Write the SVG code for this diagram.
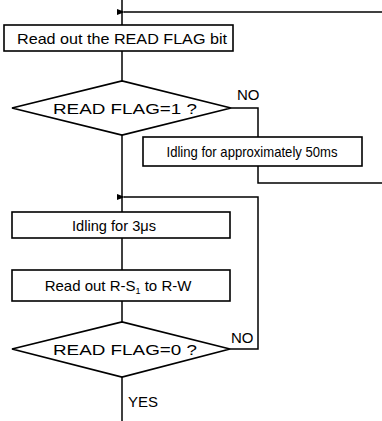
<svg xmlns="http://www.w3.org/2000/svg" width="382" height="421" viewBox="0 0 382 421">
  <style>
    .box { fill: #fff; stroke: #000; stroke-width: 1.6; }
    .dec { fill: #fff; stroke: #000; stroke-width: 1.8; }
    .wire { fill: none; stroke: #000; stroke-width: 1.5; }
    text { font-family: "Liberation Sans", Arial, sans-serif; font-size: 15px; fill: #000; }
    .c { text-anchor: middle; }
  </style>
  <defs>
    <marker id="arrow" viewBox="0 0 8 6" refX="1" refY="3" markerWidth="8" markerHeight="6" markerUnits="userSpaceOnUse" orient="auto">
      <path d="M8,0 L0,3 L8,6 Z" fill="#000"/>
    </marker>
  </defs>
  <rect width="382" height="421" fill="#fff"/>

  <!-- connectors -->
  <g id="connectors">
    <path class="wire" d="M122,0 V421"/>
    <path class="wire" d="M382,12 H124" marker-end="url(#arrow)"/>
    <path class="wire" d="M231,108 H258 V137"/>
    <path class="wire" d="M258,166 V183 H382"/>
    <path class="wire" d="M230,349 H258 V197 H124" marker-end="url(#arrow)"/>
  </g>

  <g id="read-flag-bit">
    <rect class="box" x="4" y="25" width="229" height="26"/>
    <text class="c" x="122" y="43.5" textLength="210" lengthAdjust="spacingAndGlyphs">Read out the READ FLAG bit</text>
  </g>

  <g id="check-flag-1">
    <polygon class="dec" points="12,108 122,81 231,108 122,135"/>
    <text class="c" x="125" y="113.5" textLength="144" lengthAdjust="spacingAndGlyphs">READ FLAG=1 ?</text>
    <text x="237" y="100" font-size="13">NO</text>
  </g>

  <g id="idle-50ms">
    <rect class="box" x="143" y="137" width="219" height="29"/>
    <text class="c" x="252" y="157" font-size="14" textLength="171" lengthAdjust="spacingAndGlyphs">Idling for approximately 50ms</text>
  </g>

  <g id="idle-3us">
    <rect class="box" x="12" y="212" width="218" height="26"/>
    <text class="c" x="114" y="230.5" textLength="84" lengthAdjust="spacingAndGlyphs">Idling for 3μs</text>
  </g>

  <g id="read-rs-rw">
    <rect class="box" x="12" y="270" width="218" height="31"/>
    <text class="c" x="118" y="290.5">Read out R-S<tspan font-size="9" dy="3">1</tspan><tspan dy="-3"> to R-W</tspan></text>
  </g>

  <g id="check-flag-0">
    <polygon class="dec" points="12,349 122,322 230,349 122,377"/>
    <text class="c" x="125" y="355" textLength="144" lengthAdjust="spacingAndGlyphs">READ FLAG=0 ?</text>
    <text x="231" y="343" font-size="13">NO</text>
  </g>

  <g id="yes-label">
    <text x="128" y="407" font-size="14">YES</text>
  </g>
</svg>
